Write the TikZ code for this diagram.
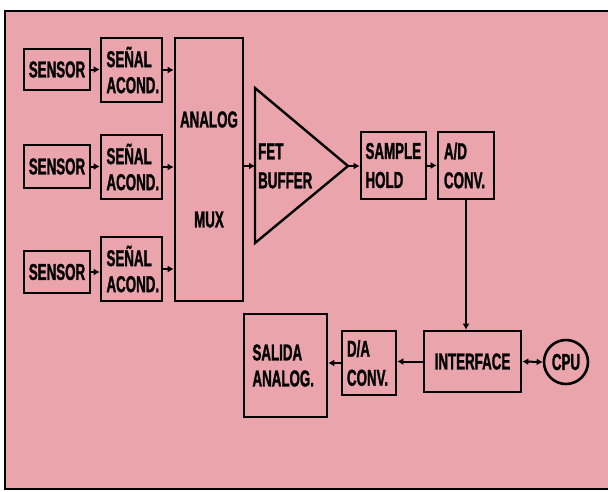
\documentclass[tikz,border=0pt]{standalone}
\usepackage{fontspec}
\setmainfont{Liberation Sans}[FakeStretch=0.58,FakeBold=1.2]
\usetikzlibrary{arrows.meta}
\definecolor{bgpink}{RGB}{234,164,172}
\begin{document}
\begin{tikzpicture}[x=1pt,y=-1pt,
  every node/.style={font=\fontsize{23}{26}\selectfont\bfseries},
  blk/.style={draw, line width=2.6pt, rectangle, inner sep=0pt},
  arr/.style={line width=2pt, -{Latex[length=6pt,width=7pt]}},
  darr/.style={line width=2pt, {Latex[length=6pt,width=7pt]}-{Latex[length=6pt,width=7pt]}},
  outl/.style={line width=2pt}]
\useasboundingbox (0,0) rectangle (608,491);
\fill[white] (0,0) rectangle (608,491);
\fill[bgpink] (5,11) rectangle (608,489);
\draw[outl] (608,11) -- (5,11) -- (5,489) -- (608,489);

% sensors
\node[blk, minimum width=66, minimum height=41] (s1) at (57,69.5) {SENSOR};
\node[blk, minimum width=66, minimum height=43] (s2) at (57,166.5) {SENSOR};
\node[blk, minimum width=66, minimum height=42] (s3) at (57,272) {SENSOR};

% signal conditioners
\node[blk, minimum width=61, minimum height=64, text width=50, inner xsep=5.5, align=left] (a1) at (131.5,70) {SEÑAL\\ACOND.};
\node[blk, minimum width=61, minimum height=64, text width=50, inner xsep=5.5, align=left] (a2) at (131.5,167) {SEÑAL\\ACOND.};
\node[blk, minimum width=61, minimum height=64, text width=50, inner xsep=5.5, align=left] (a3) at (131.5,269) {SEÑAL\\ACOND.};

% mux
\node[blk, minimum width=68, minimum height=263, align=center] (mux) at (209,169.5) {ANALOG\\[74pt]MUX};

% FET buffer triangle
\coordinate (tl) at (255,88);
\coordinate (tb) at (255,243);
\coordinate (tp) at (348,166);
\draw[line width=2.4pt, line join=miter] (tl) -- (tp) -- (tb) -- cycle;
\node[align=left, anchor=west, inner sep=0pt, font=\fontsize{23}{29}\selectfont\bfseries] (fb) at (258,166) {FET\\BUFFER};

% sample hold, A/D
\node[blk, minimum width=65, minimum height=67, text width=56, inner xsep=4.5, align=left, font=\fontsize{23}{29}\selectfont\bfseries] (sh) at (393.5,165.5) {SAMPLE\\HOLD};
\node[blk, minimum width=56, minimum height=67, text width=44, inner xsep=6, align=left, font=\fontsize{23}{29}\selectfont\bfseries] (ad) at (466,165.5) {A/D\\CONV.};

% bottom row
\node[blk, minimum width=97, minimum height=61] (intf) at (472.5,361.5) {INTERFACE};
\node[draw, circle, line width=2.6pt, minimum size=44, inner sep=0pt] (cpu) at (566,362) {CPU};
\node[blk, minimum width=54, minimum height=64, text width=44, inner xsep=5, align=left, font=\fontsize{23}{29}\selectfont\bfseries] (da) at (369,363) {D/A\\CONV.};
\node[blk, minimum width=83, minimum height=103, text width=66, inner xsep=8.5, align=left] (sal) at (285.5,365.5) {SALIDA\\ANALOG.};

% connectors
\draw[arr] (s1.east) -- (s1.east -| a1.west);
\draw[arr] (s2.east) -- (s2.east -| a2.west);
\draw[arr] (s3.east) -- (s3.east -| a3.west);
\draw[arr] (a1.east) -- (a1.east -| mux.west);
\draw[arr] (a2.east) -- (a2.east -| mux.west);
\draw[arr] (a3.east) -- (a3.east -| mux.west);
\draw[arr] (mux.east |- tp) -- (tl |- tp);
\draw[arr] (tp) -- (tp -| sh.west);
\draw[arr] (sh.east) -- (ad.west);
\draw[arr] (ad.south) -- (ad.south |- intf.north);
\draw[darr] (intf.east) -- (cpu.west);
\draw[arr] (intf.west) -- (intf.west -| da.east);
\draw[arr] (da.west) -- (da.west -| sal.east);
\end{tikzpicture}
\end{document}
